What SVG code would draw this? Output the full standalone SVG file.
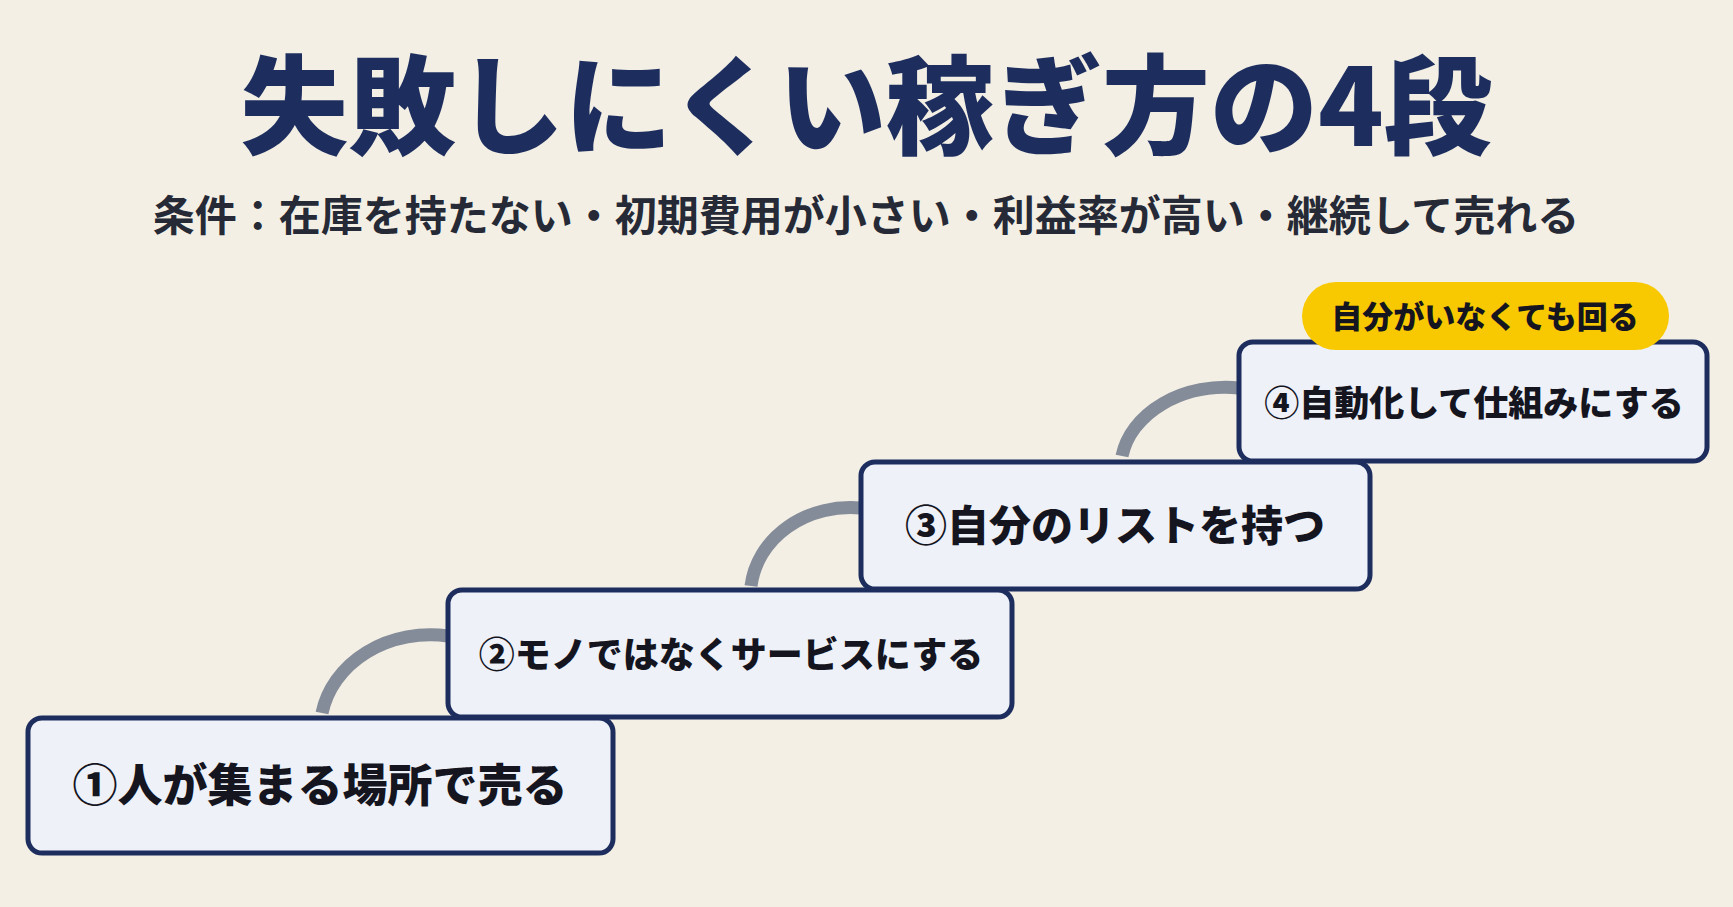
<svg xmlns="http://www.w3.org/2000/svg" width="1733" height="907" viewBox="0 0 1733 907">
<style>
.box{fill:#eef1f7;stroke:#1c2d5e;stroke-width:5}
.bt{font-family:"Noto Sans CJK JP","Noto Sans",sans-serif;font-weight:900;fill:#15151f;text-anchor:middle}
.arc{fill:none;stroke:#858c99;stroke-width:13}
</style>
<rect width="1733" height="907" fill="#f3efe5"/>
<text x="866" y="146" font-family="Noto Sans CJK JP,sans-serif" font-weight="900" font-size="108" fill="#1c2d5e" text-anchor="middle">失敗しにくい稼ぎ方の4段</text>
<text x="866" y="231" font-family="Noto Sans CJK JP,sans-serif" font-weight="700" font-size="42" fill="#262a36" text-anchor="middle">条件：在庫を持たない・初期費用が小さい・利益率が高い・継続して売れる</text>
<g id="connectors">
<path class="arc" d="M322,713 A110,95 0 0 1 448,636"/>
<path class="arc" d="M751,586 A100,88 0 0 1 861,508"/>
<path class="arc" d="M1122,456 A105,82 0 0 1 1239,388"/>
</g>
<g id="step1"><rect class="box" x="28" y="718" width="585" height="135" rx="14"/><text class="bt" x="320" y="802" font-size="45">①人が集まる場所で売る</text></g>
<g id="step2"><rect class="box" x="448" y="590" width="564" height="127" rx="14"/><text class="bt" x="731" y="668" font-size="36">②モノではなくサービスにする</text></g>
<g id="step3"><rect class="box" x="861" y="462" width="509" height="127" rx="14"/><text class="bt" x="1115" y="541" font-size="42">③自分のリストを持つ</text></g>
<g id="step4"><rect class="box" x="1239" y="342" width="468" height="119" rx="14"/><text class="bt" x="1474" y="416" font-size="35">④自動化して仕組みにする</text></g>
<g id="badge"><rect x="1302" y="282" width="367" height="68" rx="34" fill="#f8c800"/><text x="1485" y="328" font-family="Noto Sans CJK JP,sans-serif" font-weight="900" font-size="31" fill="#15151f" text-anchor="middle">自分がいなくても回る</text></g>
</svg>
